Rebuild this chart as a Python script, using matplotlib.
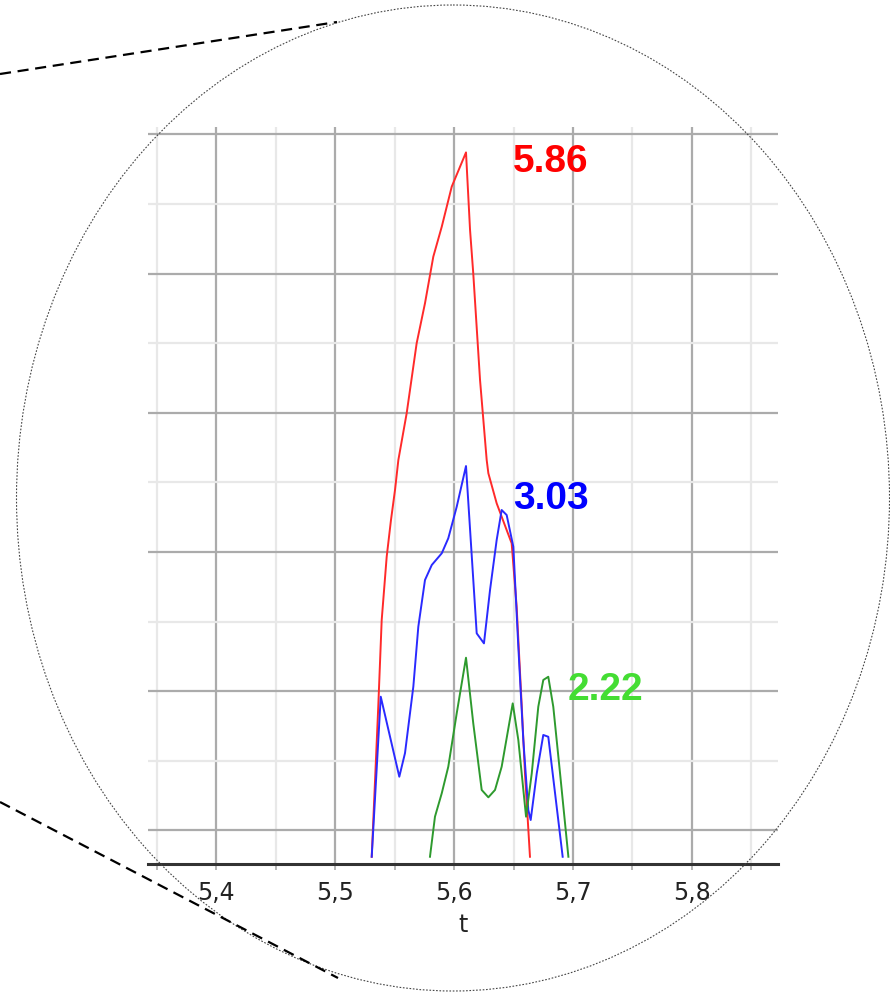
import matplotlib.pyplot as plt
from matplotlib.patches import Ellipse
from matplotlib.ticker import MultipleLocator, FuncFormatter

t_red = [5.5307, 5.5362, 5.5391, 5.5433, 5.5469, 5.5503, 5.5531, 5.5601, 5.5685,
         5.5755, 5.5825, 5.5896, 5.5980, 5.6100, 5.6134, 5.6161, 5.6218, 5.6274,
         5.6288, 5.6358, 5.6442, 5.6484, 5.6526, 5.6569, 5.6596, 5.6638]
v_red = [0.81, 1.888, 2.511, 2.966, 3.229, 3.445, 3.66, 3.996, 4.499,
         4.786, 5.121, 5.336, 5.624, 5.87, 5.313, 5.001, 4.235, 3.66,
         3.565, 3.349, 3.157, 3.062, 2.606, 1.888, 1.409, 0.81]

t_blue = [5.5307, 5.5383, 5.5539, 5.5587, 5.5657, 5.5699, 5.5755, 5.5812, 5.5896,
          5.5951, 5.6022, 5.6100, 5.6190, 5.6251, 5.6302, 5.6358, 5.6400, 5.6442,
          5.6498, 5.6540, 5.6582, 5.6624, 5.6644, 5.6695, 5.6750, 5.6792, 5.6849,
          5.6913]
v_blue = [0.81, 1.96, 1.385, 1.555, 2.032, 2.463, 2.798, 2.906, 2.99,
          3.098, 3.325, 3.617, 2.415, 2.343, 2.726, 3.086, 3.301, 3.265,
          3.037, 2.319, 1.649, 1.146, 1.074, 1.409, 1.685, 1.672, 1.266,
          0.81]

t_green = [5.5797, 5.5839, 5.5896, 5.5951, 5.6022, 5.6100, 5.6161, 5.6232, 5.6288,
           5.6344, 5.6400, 5.6493, 5.6540, 5.6605, 5.6653, 5.6708, 5.6750, 5.6792,
           5.6834, 5.6891, 5.6961]
v_green = [0.81, 1.098, 1.266, 1.457, 1.841, 2.24, 1.769, 1.29, 1.237,
           1.29, 1.457, 1.912, 1.649, 1.098, 1.409, 1.888, 2.08, 2.103,
           1.888, 1.409, 0.81]

labels = ["5.86", "3.03", "2.22"]
label_t = [5.6495, 5.6495, 5.6958]
label_v = [5.80, 3.38, 2.01]

fig = plt.figure(figsize=(8.9, 9.96), dpi=100)
ax = fig.add_axes([148.3 / 890, (996 - 864) / 996, (778 - 148.3) / 890, (864 - 127) / 996])

ax.plot(t_red, v_red, color="#ff2a2a", lw=1.4)
ax.plot(t_blue, v_blue, color="#2a2aff", lw=1.4)
ax.plot(t_green, v_green, color="#2e9a2e", lw=1.4)

for txt, tt, vv, c in zip(labels, label_t, label_v, ["#ff0000", "#0000ff", "#44dd33"]):
    ax.text(tt, vv, txt, color=c, fontsize=28, fontweight="bold",
            family="Liberation Sans", ha="left", va="center")

ax.set_xlim(5.3428, 5.8724)
ax.set_ylim(0.758, 6.0525)
ax.xaxis.set_major_locator(MultipleLocator(0.1))
ax.xaxis.set_minor_locator(MultipleLocator(0.05))
ax.yaxis.set_major_locator(MultipleLocator(1))
ax.yaxis.set_minor_locator(MultipleLocator(0.5))
ax.xaxis.set_major_formatter(FuncFormatter(lambda v, p: f"{v:.1f}".replace(".", ",")))

ax.grid(which="major", color="#ababab", lw=1.6)
ax.grid(which="minor", color="#e8e8e8", lw=1.6)
ax.set_axisbelow(True)
ax.tick_params(axis="y", which="both", left=False, labelleft=False)
ax.tick_params(axis="x", which="both", length=4, width=1.2, color="#aaaaaa",
               labelsize=17, labelcolor="#222222", pad=8)
for s in ["left", "right", "top"]:
    ax.spines[s].set_visible(False)
ax.spines["bottom"].set_color("#333333")
ax.spines["bottom"].set_linewidth(2.2)
ax.set_xlabel("t", fontsize=17, color="#222222", labelpad=6)

# magnifier outline and guide lines
ov = fig.add_axes([0, 0, 1, 1])
ov.set_xlim(0, 890)
ov.set_ylim(996, 0)
ov.axis("off")
ov.patch.set_alpha(0)
ov.add_patch(Ellipse((453, 498), 873, 986, fill=False, ec="#444444", lw=0.8,
                     ls=(0, (1.5, 1.5))))
ov.plot([0, 337], [74, 22], color="black", lw=1.6, ls=(0, (5, 3)))
ov.plot([0, 338], [802, 978], color="black", lw=1.6, ls=(0, (5, 3)))

fig.savefig("out.png", dpi=100)
